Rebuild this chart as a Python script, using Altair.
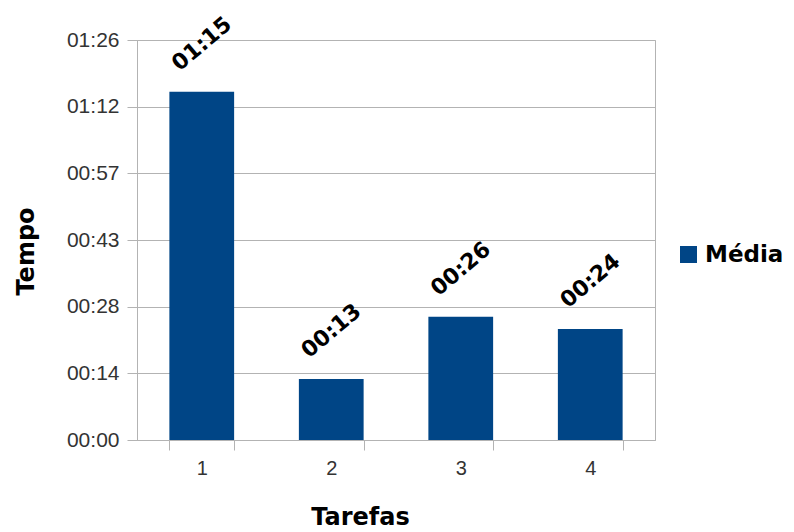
import altair as alt
import pandas as pd

# Average time per task, in seconds
tarefas = ["1", "2", "3", "4"]
media_seg = [75.2, 13.2, 26.6, 24.0]
serie = "Média"

# Y axis ticks: one sixth of 01:26 (0.001 day) apart
y_ticks = [0, 14.4, 28.8, 43.2, 57.6, 72.0, 86.4]


def mmss(v):
    s = int(v)
    return f"{s // 60:02d}:{s % 60:02d}"


df = pd.DataFrame({
    "tarefa": tarefas,
    "seg": media_seg,
    "rotulo": [mmss(v) for v in media_seg],
    "serie": [serie] * len(tarefas),
})

fmt = ("(floor(datum.value/60) < 10 ? '0' : '') + floor(datum.value/60) + ':' + "
       "(floor(datum.value % 60 + 1e-6) < 10 ? '0' : '') + floor(datum.value % 60 + 1e-6)")

tick_font = "Liberation Sans"
bold_font = "DejaVu Sans"

base = alt.Chart(df).encode(
    x=alt.X(
        "tarefa:N",
        sort=tarefas,
        scale=alt.Scale(paddingInner=0.5, paddingOuter=0.25),
        axis=alt.Axis(
            title="Tarefas", titleFont=bold_font, titleFontSize=24, titleFontWeight="bold",
            titleColor="#000", titlePadding=27, titleX=223, labelAngle=0,
            labelFont=tick_font, labelFontSize=20, labelColor="#333", labelPadding=8,
            tickBand="extent", tickSize=10, tickColor="#b3b3b3",
            domainColor="#b3b3b3",
        ),
    ),
    y=alt.Y(
        "seg:Q",
        scale=alt.Scale(domain=[0, 86.4], nice=False),
        axis=alt.Axis(
            title="Tempo", titleFont=bold_font, titleFontSize=24, titleFontWeight="bold",
            titleColor="#000", titlePadding=28, titleY=211, values=y_ticks,
            labelExpr=fmt, labelFont=tick_font, labelFontSize=21, labelColor="#333",
            labelPadding=8, tickSize=10, tickColor="#b3b3b3", domainColor="#b3b3b3",
            gridColor="#b3b3b3",
        ),
    ),
)

bars = base.mark_bar(color="#004586").encode(
    color=alt.Color(
        "serie:N",
        scale=alt.Scale(domain=[serie], range=["#004586"]),
        legend=alt.Legend(
            title=None, orient="none", legendX=540, legendY=203,
            symbolType="square", symbolSize=290, symbolStrokeWidth=0,
            labelFont=bold_font, labelFontSize=23, labelFontWeight="bold",
            labelColor="#000", labelOffset=5,
        ),
    )
)

labels = base.mark_text(
    font=bold_font, fontSize=22, fontWeight="bold", color="#000",
    angle=320, align="center", baseline="middle", yOffset=-48,
).encode(text="rotulo:N")

chart = (
    alt.layer(bars, labels)
    .properties(
        width=518, height=400,
        autosize=alt.AutoSizeParams(type="none"),
        padding={"left": 137, "top": 40, "right": 139, "bottom": 92},
        background="white",
    )
    .configure_view(stroke="#b3b3b3")
)

chart.save("out.html", embed_options={"renderer": "svg", "actions": False})
